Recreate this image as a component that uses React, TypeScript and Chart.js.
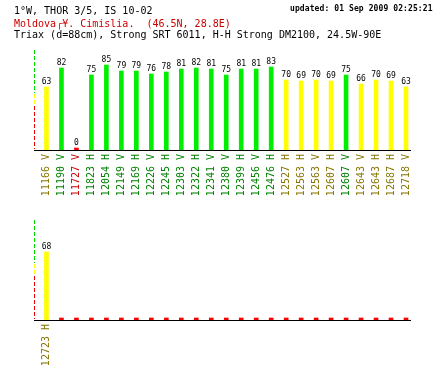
import React, { useEffect, useRef } from 'react';
import { Chart, registerables } from 'chart.js';

Chart.register(...registerables);

// ---- text ----
const TITLE_LINE_1 = '1°W, THOR 3/5, IS 10-02';
const TITLE_LINE_2 = 'Moldova┌¥. Cimislia.  (46.5N, 28.8E)';
const TITLE_LINE_3 = 'Triax (d=88cm), Strong SRT 6011, H-H Strong DM2100, 24.5W-90E';
const UPDATED = 'updated: 01 Sep 2009 02:25:21';

// ---- data ----
const topLabels = [
  '11166 V', '11190 V', '11727 V', '11823 H', '12054 H', '12149 V', '12169 H',
  '12226 V', '12245 H', '12303 V', '12322 H', '12341 V', '12380 V', '12399 H',
  '12456 V', '12476 H', '12527 H', '12563 H', '12563 V', '12607 H', '12607 V',
  '12643 V', '12643 H', '12687 H', '12718 V',
];
const topValues = [
  63, 82, 0, 75, 85, 79, 79, 76, 78, 81, 82, 81, 75, 81, 81, 83, 70, 69, 70, 69,
  75, 66, 70, 69, 63,
];

const bottomLabels = [
  '12723 H', '', '', '', '', '', '', '', '', '', '', '', '', '', '', '', '', '',
  '', '', '', '', '', '', '',
];
const bottomValues = [
  68, 0, 0, 0, 0, 0, 0, 0, 0, 0, 0, 0, 0, 0, 0, 0, 0, 0, 0, 0, 0, 0, 0, 0, 0,
];

const Y_MIN = 0;
const Y_MAX = 100;
const GOOD_LEVEL = 72;
const AXIS_GREEN_FROM = 56;
const AXIS_RED_BELOW = 44;

const MONO = "'DejaVu Sans Mono', monospace";

function barColor(v: number) {
  if (v <= 0) return '#ff0000';
  return v >= GOOD_LEVEL ? '#00ee00' : '#ffff00';
}
function textColor(v: number) {
  if (v <= 0) return '#cc0000';
  return v >= GOOD_LEVEL ? '#008000' : '#857500';
}

const dashedAxis = {
  id: 'dashedAxis',
  afterDatasetsDraw(chart: any) {
    const ys = chart.scales.y;
    const x = Math.round(chart.chartArea.left) + 0.5;
    const ctx = chart.ctx;
    const segs: [number, number, string][] = [
      [Y_MAX, AXIS_GREEN_FROM, '#00dd00'],
      [AXIS_GREEN_FROM, AXIS_RED_BELOW, '#ffff00'],
      [AXIS_RED_BELOW, Y_MIN, '#ee0000'],
    ];
    ctx.save();
    ctx.lineWidth = 1;
    ctx.setLineDash([4, 2]);
    segs.forEach(([a, b, c]) => {
      ctx.strokeStyle = c;
      ctx.beginPath();
      ctx.moveTo(x, ys.getPixelForValue(a));
      ctx.lineTo(x, ys.getPixelForValue(b) - 1);
      ctx.stroke();
    });
    ctx.restore();
  },
};

function valueLabels(labels: string[], values: number[]) {
  return {
    id: 'valueLabels',
    afterDatasetsDraw(chart: any) {
      const meta = chart.getDatasetMeta(0);
      const ctx = chart.ctx;
      ctx.save();
      ctx.font = `8px ${MONO}`;
      ctx.fillStyle = '#000000';
      ctx.textAlign = 'center';
      ctx.textBaseline = 'alphabetic';
      meta.data.forEach((el: any, i: number) => {
        if (!labels[i]) return;
        const top = Math.min(el.y, el.base);
        ctx.fillText(String(values[i]), el.x, top - 3);
      });
      ctx.restore();
    },
  };
}

function makeConfig(labels: string[], values: number[], padTop: number, xHeight: number): any {
  const n = labels.length;
  return {
    type: 'bar',
    data: {
      datasets: [
        {
          data: values.map((v, i) => ({ x: i, y: v })),
          backgroundColor: values.map(barColor),
          barThickness: 4,
          minBarLength: 2,
          borderWidth: 0,
        },
      ],
    },
    options: {
      animation: false,
      responsive: false,
      maintainAspectRatio: false,
      layout: { padding: { top: padTop, left: 34, right: 30, bottom: 0 } },
      plugins: {
        legend: { display: false },
        tooltip: { enabled: false },
        title: { display: false },
      },
      scales: {
        x: {
          type: 'linear',
          offset: false,
          min: -0.833,
          max: n - 1 + 0.267,
          grid: { display: false, drawTicks: false, tickLength: 0 },
          border: { display: true, color: '#000000', width: 1 },
          afterBuildTicks: (s: any) => {
            s.ticks = labels.map((_, i) => ({ value: i }));
          },
          afterFit: (s: any) => {
            s.height = xHeight;
            s.paddingLeft = 0;
            s.paddingRight = 0;
          },
          ticks: {
            autoSkip: false,
            minRotation: 90,
            maxRotation: 90,
            padding: 4,
            font: { family: MONO, size: 10 },
            color: (c: any) => textColor(values[c.index] ?? 0),
            callback: (_v: any, i: number) => labels[i] ?? '',
          },
        },
        y: { type: 'linear', display: false, min: Y_MIN, max: Y_MAX },
      },
    },
    plugins: [dashedAxis, valueLabels(labels, values)],
  };
}

function BarPanel(props: { labels: string[]; values: number[]; top: number; height: number; padTop: number; xHeight: number }) {
  const ref = useRef<HTMLCanvasElement>(null);
  useEffect(() => {
    if (!ref.current) return;
    const chart = new Chart(ref.current, makeConfig(props.labels, props.values, props.padTop, props.xHeight));
    return () => chart.destroy();
  }, []);
  return (
    <canvas
      ref={ref}
      width={440}
      height={props.height}
      style={{ position: 'absolute', left: 0, top: props.top, width: 440, height: props.height }}
    />
  );
}

const lineStyle: React.CSSProperties = {
  position: 'absolute',
  left: 14,
  fontFamily: MONO,
  fontSize: 10,
  lineHeight: '12px',
  whiteSpace: 'pre',
  color: '#000000',
};

export default function App() {
  return (
    <div
      style={{
        position: 'absolute',
        left: 0,
        top: 0,
        width: 440,
        height: 370,
        background: '#ffffff',
        overflow: 'hidden',
      }}
    >
      <BarPanel labels={topLabels} values={topValues} top={0} height={210} padTop={50} xHeight={60} />
      <BarPanel labels={bottomLabels} values={bottomValues} top={210} height={160} padTop={10} xHeight={50} />
      <div style={{ ...lineStyle, top: 5 }}>{TITLE_LINE_1}</div>
      <div style={{ ...lineStyle, top: 18, color: '#cc0000' }}>{TITLE_LINE_2}</div>
      <div style={{ ...lineStyle, top: 29 }}>{TITLE_LINE_3}</div>
      <div
        style={{
          position: 'absolute',
          left: 290,
          top: 4,
          fontFamily: MONO,
          fontSize: 8,
          fontWeight: 'bold',
          lineHeight: '10px',
          letterSpacing: '0.1px',
          whiteSpace: 'pre',
          color: '#000000',
        }}
      >
        {UPDATED}
      </div>
    </div>
  );
}
